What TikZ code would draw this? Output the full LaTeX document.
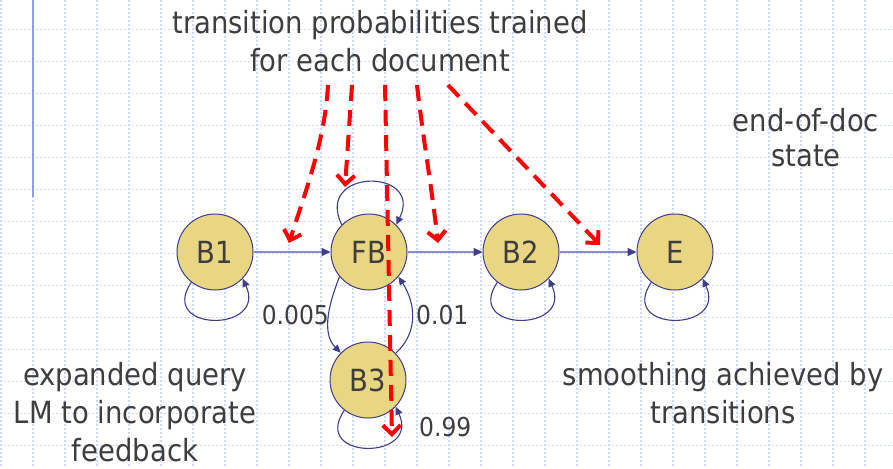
\documentclass[tikz,border=0pt]{standalone}
\usepackage{fontspec}
\setmainfont{DejaVu Sans Condensed}
\usetikzlibrary{arrows.meta}
\definecolor{gridc}{RGB}{205,216,250}
\definecolor{vlinec}{RGB}{138,160,240}
\definecolor{nodefill}{RGB}{233,214,130}
\definecolor{navyc}{RGB}{62,62,140}
\definecolor{hlinec}{RGB}{140,140,200}
\definecolor{textc}{RGB}{62,62,62}
\definecolor{redc}{RGB}{255,0,0}
\tikzset{
  gridline/.style={draw=gridc, line width=1.2pt, dash pattern=on 2pt off 2pt},
  state/.style={circle, draw=navyc, fill=nodefill, minimum size=76pt, inner sep=0pt,
    line width=1pt, text=textc, font=\fontsize{30.5}{36}\selectfont},
  hedge/.style={draw=hlinec, line width=1.5pt, -{Triangle[length=9pt,width=8pt,color=navyc]}},
  loopline/.style={draw=navyc, line width=1.1pt, -{Triangle[length=8pt,width=7pt]}},
  redarrow/.style={draw=redc, line width=4pt, dash pattern=on 16pt off 9pt,
    -{Straight Barb[length=9pt,width=18pt]}},
  txt/.style={text=textc, align=center, inner sep=0pt, font=\fontsize{30.5}{38}\selectfont},
  lbl/.style={text=textc, inner sep=0pt, font=\fontsize{26}{30}\selectfont}
}
\begin{document}
\begin{tikzpicture}[x=1pt,y=-1pt]
\useasboundingbox (0,0) rectangle (893,468);
\fill[white] (0,0) rectangle (893,468);
\foreach \x in {1,33,...,865} \draw[gridline] (\x,0) -- (\x,468);
\foreach \y in {29.5,61.5,...,445.5} \draw[gridline] (0,\y) -- (893,\y);
\draw[vlinec, line width=1.5pt] (33,0) -- (33,197);

\node[state] (B1) at (215,252) {B1};
\node[state] (FB) at (369,252) {FB};
\node[state] (B2) at (521,252) {B2};
\node[state] (E)  at (675,252) {E};
\node[state] (B3) at (368,380) {B3};

\draw[hedge] (B1) -- (FB);
\draw[hedge] (FB) -- (B2);
\draw[hedge] (B2) -- (E);

\draw[loopline] (B1.232) .. controls +(-34,50) and +(25,54) .. (B1.316);
\draw[loopline] (B2.232) .. controls +(-34,50) and +(25,54) .. (B2.316);
\draw[loopline] (E.232) .. controls +(-34,50) and +(25,54) .. (E.316);
\draw[loopline] (B3.232) .. controls +(-34,50) and +(25,54) .. (B3.316);
\draw[loopline] (FB.135) .. controls +(-28,-57) and +(28,-57) .. (FB.45);
\draw[loopline] (FB.220) .. controls +(-10,25) and +(-20,-20) .. (B3.135);
\draw[loopline] (B3.44) .. controls +(22,-20) and +(18,28) .. (FB.320);

\node[lbl, anchor=east] (l1) at (329,315) {0.005};
\node[lbl, anchor=west] (l2) at (416,315) {0.01};
\node[lbl, anchor=west] (l3) at (419,427) {0.99};

\node[txt, anchor=north] (top) at (380,10) {transition probabilities trained\\for each document};
\node[txt, anchor=north, font=\fontsize{30.5}{35}\selectfont] (eod) at (806,108) {end-of-doc\\state};
\node[txt, anchor=north] (exq) at (135,362) {expanded query\\LM to incorporate\\feedback};
\node[txt, anchor=north] (smo) at (723,362) {smoothing achieved by\\transitions};

\coordinate (s1) at (328,85); \coordinate (e1) at (289,243);
\coordinate (s2) at (352,85); \coordinate (e2) at (345,187);
\coordinate (s3) at (385,85); \coordinate (e3) at (392,437);
\coordinate (s4) at (417,85); \coordinate (e4) at (438,243);
\coordinate (s5) at (448,85); \coordinate (e5) at (600,245);

\draw[redarrow] (s1) .. controls (325,140) and (306,190) .. (e1);
\draw[redarrow] (s2) -- (e2);
\draw[redarrow] (s3) -- (e3);
\draw[redarrow] (s4) .. controls (422,130) and (432,190) .. (e4);
\draw[redarrow] (s5) -- (e5);
\end{tikzpicture}
\end{document}
